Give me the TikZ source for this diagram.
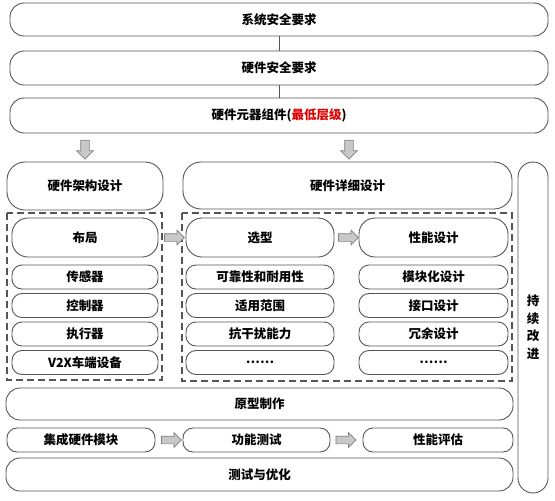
\documentclass[tikz,border=0pt]{standalone}
\usepackage{fontspec}
\setmainfont{Noto Sans CJK SC}
\usetikzlibrary{shapes.arrows}

\definecolor{edgegray}{HTML}{555555}
\definecolor{arrowfill}{HTML}{C8C8C8}
\definecolor{arrowline}{HTML}{808080}
\definecolor{lowred}{HTML}{E00000}

\begin{document}
\begin{tikzpicture}[x=1pt,y=-1pt,
	box/.style={draw=edgegray,line width=0.9pt,rounded corners=#1,inner sep=0pt,outer sep=0pt,
		font=\bfseries\fontsize{12.5}{15}\selectfont},
	box/.default=12pt,
	frame/.style={draw=edgegray,line width=1.1pt,dash pattern=on 7pt off 4pt},
	blockarrow/.style={single arrow,draw=arrowline,fill=arrowfill,line width=0.7pt,
		inner xsep=0pt,inner ysep=4pt,text height=0pt,text depth=0pt,
		minimum height=19pt,single arrow head extend=4pt,single arrow head indent=0pt},
	downarrow/.style={blockarrow,shape border rotate=270,inner xsep=4pt,inner ysep=0pt},
	rightarrow/.style={blockarrow,minimum height=20pt,inner ysep=3.5pt,single arrow head extend=3.5pt}]
			\useasboundingbox (0,0) rectangle (555,501);

			\node[box=14pt,minimum width=538pt,minimum height=33pt] (sysreq) at (279,19.5) {系统安全要求};
			\node[box=14pt,minimum width=538pt,minimum height=34pt] (hwreq) at (279,68) {硬件安全要求};
			\node[box=14pt,minimum width=538pt,minimum height=35pt] (comp) at (279,115.5) {硬件元器组件(\textcolor{lowred}{最低层级})};
			\draw[edgegray,line width=0.8pt] (sysreq) -- (hwreq);
			\draw[edgegray,line width=0.8pt] (hwreq) -- (comp);

			\node[downarrow] (down1) at (85,147.5) {};
			\node[downarrow] (down2) at (349,147.5) {};

			\node[box=18pt,minimum width=156pt,minimum height=48pt] (arch) at (85,186) {硬件架构设计};
			\node[box=18pt,minimum width=329pt,minimum height=47pt] (detail) at (347.5,185.5) {硬件详细设计};
			\node[box=15pt,minimum width=30pt,minimum height=331pt,align=center,
				font=\bfseries\fontsize{12.5}{17.5}\selectfont] (improve) at (533,327.5) {持\\续\\改\\进};

			\draw[frame] (7,213) rectangle (162,380);
			\draw[frame] (182,213) rectangle (512,381);

			\node[box=16pt,minimum width=146pt,minimum height=39pt] (layout) at (85,237.5) {布局};
			\node[box=16pt,minimum width=148pt,minimum height=39pt] (select) at (260,237.5) {选型};
			\node[box=16pt,minimum width=149pt,minimum height=39pt] (perf) at (433.5,237.5) {性能设计};
			\node[rightarrow] (right1) at (172.5,237.5) {};
			\node[rightarrow] (right2) at (346.5,237.5) {};

			\node[box=10pt,minimum width=146pt,minimum height=24pt] (sensor) at (85,277) {传感器};
			\node[box=10pt,minimum width=146pt,minimum height=24pt] (ctrl) at (85,305.5) {控制器};
			\node[box=10pt,minimum width=146pt,minimum height=24pt] (actor) at (85,334) {执行器};
			\node[box=10pt,minimum width=146pt,minimum height=24pt] (vtwox) at (85,362.5) {V2X车端设备};

			\node[box=10pt,minimum width=148pt,minimum height=24pt] (reliab) at (260,277) {可靠性和耐用性};
			\node[box=10pt,minimum width=148pt,minimum height=24pt] (scope) at (260,305.5) {适用范围};
			\node[box=10pt,minimum width=148pt,minimum height=24pt] (immun) at (260,334) {抗干扰能力};
			\node[box=10pt,minimum width=148pt,minimum height=24pt] (selmore) at (260,362.5) {……};

			\node[box=10pt,minimum width=149pt,minimum height=24pt] (modular) at (433.5,277) {模块化设计};
			\node[box=10pt,minimum width=149pt,minimum height=24pt] (iface) at (433.5,305.5) {接口设计};
			\node[box=10pt,minimum width=149pt,minimum height=24pt] (redund) at (433.5,334) {冗余设计};
			\node[box=10pt,minimum width=149pt,minimum height=24pt] (perfmore) at (433.5,362.5) {……};

			\node[box=14pt,minimum width=507pt,minimum height=32pt] (proto) at (259.5,404) {原型制作};
			\node[box=10pt,minimum width=148pt,minimum height=24pt] (integ) at (81,440) {集成硬件模块};
			\node[box=10pt,minimum width=147pt,minimum height=24pt] (functest) at (256.5,440) {功能测试};
			\node[box=10pt,minimum width=150pt,minimum height=24pt] (evalperf) at (438,440) {性能评估};
			\node[rightarrow] (right3) at (169.5,440) {};
			\node[rightarrow] (right4) at (344,440) {};
			\node[box=14pt,minimum width=507pt,minimum height=33pt] (testopt) at (259.5,474.5) {测试与优化};
		\end{tikzpicture}
\end{document}
